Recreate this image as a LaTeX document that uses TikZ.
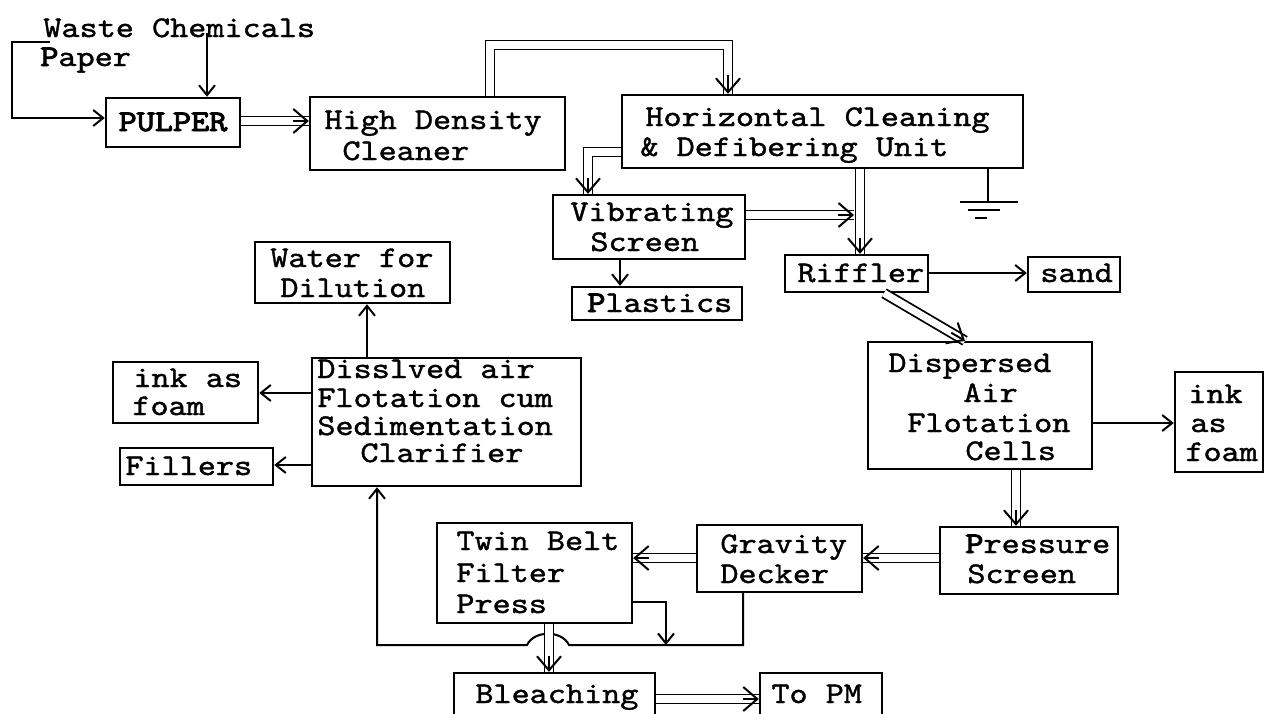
\documentclass[tikz,border=0pt]{standalone}
\usepackage{fontspec}
\setmonofont{lmmono10-regular.otf}[FakeStretch=1.15,FakeBold=1.3,BoldFont=lmmono10-regular.otf,BoldFeatures={FakeBold=3.2}]
\usetikzlibrary{arrows.meta,fit,calc}
\newcommand\sx[1]{#1}
\begin{document}
\begin{tikzpicture}[x=0.5pt,y=-0.5pt,
  box/.style={draw, line width=1.2pt, inner sep=0pt},
  txt/.style={anchor=base west, inner sep=0pt, font=\fontsize{15}{18}\selectfont\ttfamily},
  ln/.style={line width=1pt},
  arr/.style={line width=1pt, -{Straight Barb[length=5pt,width=8pt,line width=1pt]}},
  dbl/.style={line width=0.9pt, double, double distance=3.6pt},
  tip2/.style={line width=1pt, -{Straight Barb[length=7pt,width=12pt,line width=1pt]}},
]
\useasboundingbox (0,0) rectangle (1265,713);
\clip (0,0) rectangle (1265,713);
% boxes
\node[box, fit={(106,98) (240,147)}] (pulper) {};
\node[box, fit={(310,97) (565,170)}] (hdc) {};
\node[box, fit={(622,95) (1023,168)}] (hcdu) {};
\node[box, fit={(553,195) (745,259)}] (vs) {};
\node[box, fit={(572,287) (742,320)}] (plastics) {};
\node[box, fit={(785,255) (928,292)}] (riffler) {};
\node[box, fit={(1028,257) (1120,292)}] (sand) {};
\node[box, fit={(255,242) (450,303)}] (wfd) {};
\node[box, fit={(312,358) (581,486)}] (clar) {};
\node[box, fit={(113,362) (258,423)}] (inkl) {};
\node[box, fit={(120,448) (273,485)}] (fillers) {};
\node[box, fit={(868,342) (1092,469)}] (daf) {};
\node[box, fit={(1175,372) (1263,472)}] (inkr) {};
\node[box, fit={(940,527) (1118,594)}] (ps) {};
\node[box, fit={(697,525) (862,592)}] (gd) {};
\node[box, fit={(437,523) (632,623)}] (tbfp) {};
\node[box, fit={(454,673) (655,725)}] (bleach) {};
\node[box, fit={(760,673) (882,725)}] (topm) {};
% texts
\node[txt] (t1) at (43,37) {\sx{Waste Chemicals}};
\node[txt] (t2) at (40,66) {\sx{{\bfseries P}aper}};
\node[txt, anchor=base, font=\fontsize{15}{18}\selectfont\ttfamily\bfseries] (t3) at (173,131) {\sx{PULPER}};
\node[txt] (t4) at (324,129) {\sx{High Density}};
\node[txt] (t5) at (342,160) {\sx{Cleaner}};
\node[txt] (t6) at (645,126) {\sx{Horizontal Cleaning}};
\node[txt] (t7) at (640,156) {\sx{\& Defibering Unit}};
\node[txt] (t8) at (570,221) {\sx{Vibrating}};
\node[txt] (t9) at (590,251) {\sx{Screen}};
\node[txt] (t10) at (587,312) {\sx{{\bfseries P}lastics}};
\node[txt] (t11) at (797,282) {\sx{Riffler}};
\node[txt] (t12) at (1040,282) {\sx{sand}};
\node[txt] (t13) at (270,267) {\sx{Water for}};
\node[txt] (t14) at (280,297) {\sx{Dilution}};
\node[txt] (t15) at (133,387) {\sx{ink as}};
\node[txt] (t16) at (132,415) {\sx{foam}};
\node[txt] (t17) at (317,378) {\sx{Disslved air}};
\node[txt] (t18) at (317,407) {\sx{Flotation cum}};
\node[txt] (t19) at (317,435) {\sx{Sedimentation}};
\node[txt] (t20) at (360,462) {\sx{Clarifier}};
\node[txt] (t21) at (125,475) {\sx{Fillers}};
\node[txt] (t22) at (888,372) {\sx{Dispersed}};
\node[txt] (t23) at (963,402) {\sx{Air}};
\node[txt] (t24) at (907,432) {\sx{Flotation}};
\node[txt] (t25) at (965,460) {\sx{Cells}};
\node[txt] (t26) at (1188,403) {\sx{ink}};
\node[txt] (t27) at (1190,432) {\sx{as}};
\node[txt] (t28) at (1185,461) {\sx{foam}};
\node[txt] (t29) at (965,553) {\sx{{\bfseries P}ressure}};
\node[txt] (t30) at (967,583) {\sx{Screen}};
\node[txt] (t31) at (720,553) {\sx{Gravity}};
\node[txt] (t32) at (720,583) {\sx{Decker}};
\node[txt] (t33) at (456,550) {\sx{Twin Belt}};
\node[txt] (t34) at (456,582) {\sx{Filter}};
\node[txt] (t35) at (456,613) {\sx{Press}};
\node[txt] (t36) at (475,703) {\sx{Bleaching}};
\node[txt] (t37) at (771,703) {\sx{To PM}};
% single connectors
\coordinate (wp) at (50,42);
\draw[arr] (wp) -- (12,42) -- (12,118) -- (pulper.west |- 0,118);
\coordinate (chem) at (207,33);
\draw[arr] (chem) -- (chem |- pulper.north);
\draw[arr] (vs.south -| 620,0) -- (plastics.north -| 620,0);
\draw[arr] (riffler.east |- 0,273) -- (sand.west |- 0,273);
\draw[arr, line width=1.4pt] (daf.east |- 0,423) -- (inkr.west |- 0,423);
\draw[arr] (clar.north -| 367,0) -- (wfd.south -| 367,0);
\draw[arr] (clar.west |- 0,393) -- (inkl.east |- 0,393);
\draw[arr] (clar.west |- 0,465) -- (fillers.east |- 0,465);
% ground
\coordinate (g0) at (988,202);
\draw[ln] (hcdu.south -| g0) -- (g0);
\draw[line width=1.4pt] (960,202) -- (1018,202);
\draw[line width=1.2pt] (968,210) -- (1000,210);
\draw[line width=1.2pt] (975,218) -- (987,218);
% return line with hop
\coordinate (j1) at (666,645);
\draw[arr] (gd.south -| 743,0) -- (743,645) -- (569,645)
  .. controls (562,630) and (534,630) .. (527,645) -- (377,645) -- (clar.south -| 377,0);
\draw[arr] (tbfp.east |- 0,602) -- (666,602) -- (j1);
% double connectors
\coordinate (a1) at (pulper.east |- 0,121); \coordinate (b1) at (hdc.west |- 0,121);
\draw[dbl] (a1) -- (b1); \draw[tip2] ($(b1)!8pt!(a1)$) -- (b1);
\coordinate (a2) at (hdc.north -| 490,0); \coordinate (b2) at (hcdu.north -| 728,0);
\draw[dbl] (a2) -- (490,45) -- (728,45) -- (b2); \draw[tip2] (728,75) -- (b2);
\coordinate (a3) at (hcdu.west |- 0,152); \coordinate (b3) at (vs.north -| 588,0);
\draw[dbl] (a3) -- (588,152) -- (b3); \draw[tip2] (588,178) -- (b3);
\coordinate (a5) at (vs.east |- 0,215); \coordinate (b5) at (854,215);
\draw[dbl] (a5) -- (b5); \draw[tip2] ($(b5)!8pt!(a5)$) -- (b5);
\coordinate (a4) at (hcdu.south -| 860,0); \coordinate (b4) at (riffler.north -| 860,0);
\draw[dbl] (a4) -- (b4); \draw[tip2] ($(b4)!8pt!(a4)$) -- (b4);
\coordinate (a6) at (riffler.south -| 884,0); \coordinate (b6) at (daf.north -| 965,0);
\draw[dbl] (a6) -- (b6); \draw[tip2] ($(b6)!8pt!(a6)$) -- (b6);
\coordinate (a7) at (daf.south -| 1016,0); \coordinate (b7) at (ps.north -| 1016,0);
\draw[dbl] (a7) -- (b7); \draw[tip2] ($(b7)!8pt!(a7)$) -- (b7);
\coordinate (a8) at (ps.west |- 0,558); \coordinate (b8) at (gd.east |- 0,558);
\draw[dbl] (a8) -- (b8); \draw[tip2] ($(b8)!8pt!(a8)$) -- (b8);
\coordinate (a9) at (gd.west |- 0,558); \coordinate (b9) at (tbfp.east |- 0,558);
\draw[dbl] (a9) -- (b9); \draw[tip2] ($(b9)!8pt!(a9)$) -- (b9);
\coordinate (a10) at (tbfp.south -| 549,0); \coordinate (b10) at (bleach.north -| 549,0);
\draw[dbl] (a10) -- (b10); \draw[tip2] ($(b10)!8pt!(a10)$) -- (b10);
\coordinate (a11) at (bleach.east |- 0,699); \coordinate (b11) at (topm.west |- 0,699);
\draw[dbl] (a11) -- (b11); \draw[tip2] ($(b11)!8pt!(a11)$) -- (b11);
\end{tikzpicture}
\end{document}
